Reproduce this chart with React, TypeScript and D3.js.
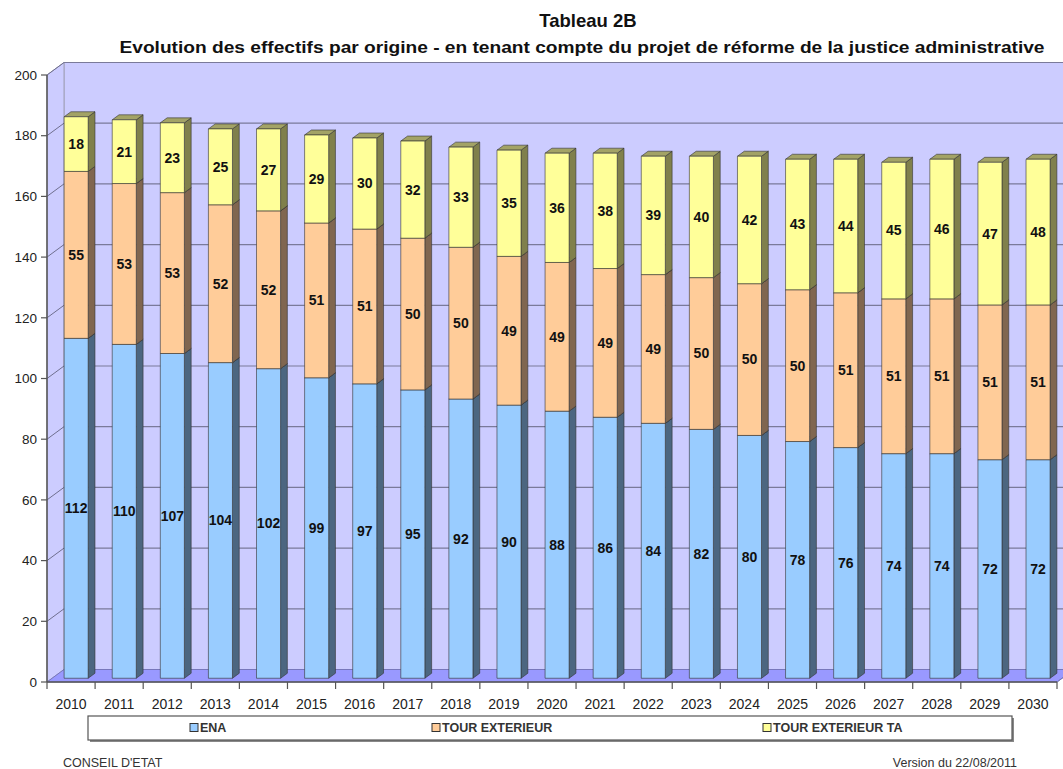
import * as d3 from "d3";

const years = [
  "2010", "2011", "2012", "2013", "2014", "2015", "2016", "2017", "2018", "2019", "2020",
  "2021", "2022", "2023", "2024", "2025", "2026", "2027", "2028", "2029", "2030",
];
const ena = [112, 110, 107, 104, 102, 99, 97, 95, 92, 90, 88, 86, 84, 82, 80, 78, 76, 74, 74, 72, 72];
const tourExt = [55, 53, 53, 52, 52, 51, 51, 50, 50, 49, 49, 49, 49, 50, 50, 50, 51, 51, 51, 51, 51];
const tourExtTa = [18, 21, 23, 25, 27, 29, 30, 32, 33, 35, 36, 38, 39, 40, 42, 43, 44, 45, 46, 47, 48];
const seriesNames = ["ENA", "TOUR EXTERIEUR", "TOUR EXTERIEUR TA"];
const yTicks = [0, 20, 40, 60, 80, 100, 120, 140, 160, 180, 200];

// front, side, top colours per series
const colors = [
  { front: "#99ccff", side: "#4c6680", top: "#7aa3cc" },
  { front: "#ffcc99", side: "#806650", top: "#cca37a" },
  { front: "#ffff99", side: "#80804c", top: "#a3a366" },
];

const W = 1063;
const H = 769;
const left = 47;
const right = 1057;
const bottom = 682;
const top = 75;
// wall depth offset
const DX = 17;
const DY = -12.5;
const FONT = "'Liberation Sans', Arial, sans-serif";

export default function App() {
  const x = d3.scaleBand<string>().domain(years).range([left, right]).paddingInner(0.5).paddingOuter(0.25);
  const y = d3.scaleLinear().domain([0, 200]).range([bottom, top]);
  const step = x.step();

  const stacked = d3.stack<number>().keys(["0", "1", "2"]).value((i, k) => [ena, tourExt, tourExtTa][+k][i])(
    years.map((_, i) => i)
  );

  // bar sits between 30% and 70% of the depth
  const fx = DX * 0.3;
  const fy = DY * 0.3;
  const bdx = DX * 0.4;
  const bdy = DY * 0.4;

  const pts = (p: number[][]) => p.map((q) => q.join(",")).join(" ");

  return (
    <svg
      width={W}
      height={H}
      style={{ position: "absolute", left: 0, top: 0, background: "#fff", fontFamily: FONT }}
    >
      {/* titre */}
      <text x={588} y={27} textAnchor="middle" fontSize={18.5} fontWeight="bold" fill="#111">
        Tableau 2B
      </text>
      <text
        x={582}
        y={53}
        textAnchor="middle"
        fontSize={17}
        fontWeight="bold"
        fill="#111"
        textLength={925}
        lengthAdjust="spacingAndGlyphs"
      >
        Evolution des effectifs par origine - en tenant compte du projet de réforme de la justice administrative
      </text>

      {/* murs */}
      <polygon
        points={pts([[left + DX, top + DY], [right + DX, top + DY], [right + DX, bottom + DY], [left + DX, bottom + DY]])}
        fill="#ccccff"
        stroke="#a0a0b8"
        strokeWidth={1}
      />
      <polygon
        points={pts([[left, top], [left + DX, top + DY], [left + DX, bottom + DY], [left, bottom]])}
        fill="#ccccff"
        stroke="#a0a0b8"
        strokeWidth={1}
      />
      <polygon
        points={pts([[left, bottom], [left + DX, bottom + DY], [right + DX, bottom + DY], [right, bottom]])}
        fill="#9999ff"
        stroke="#7777bb"
        strokeWidth={1}
      />
      {yTicks.slice(1).map((t) => (
        <g key={t}>
          <line x1={left} y1={y(t)} x2={left + DX} y2={y(t) + DY} stroke="#6f6f8f" strokeWidth={1} />
          <line x1={left + DX} y1={y(t) + DY} x2={right + DX} y2={y(t) + DY} stroke="#7a7a9a" strokeWidth={1.2} />
        </g>
      ))}

      {/* barres */}
      {years.map((yr, i) => {
        const x0 = (x(yr) ?? 0) + fx;
        const w = x.bandwidth();
        return (
          <g key={yr}>
            {stacked.map((s, k) => {
              const y0 = y(s[i][0]) + fy;
              const y1 = y(s[i][1]) + fy;
              const c = colors[k];
              return (
                <g key={k} stroke="#333" strokeWidth={0.6} strokeLinejoin="round">
                  <polygon
                    points={pts([[x0 + w, y1], [x0 + w + bdx, y1 + bdy], [x0 + w + bdx, y0 + bdy], [x0 + w, y0]])}
                    fill={c.side}
                  />
                  <polygon
                    points={pts([[x0, y1], [x0 + bdx, y1 + bdy], [x0 + w + bdx, y1 + bdy], [x0 + w, y1]])}
                    fill={c.top}
                  />
                  <rect x={x0} y={y1} width={w} height={y0 - y1} fill={c.front} />
                </g>
              );
            })}
          </g>
        );
      })}

      {/* étiquettes */}
      {years.map((yr, i) =>
        stacked.map((s, k) => (
          <text
            key={yr + k}
            x={(x(yr) ?? 0) + fx + x.bandwidth() / 2}
            y={(y(s[i][0]) + y(s[i][1])) / 2 + fy}
            dy="0.35em"
            textAnchor="middle"
            fontSize={14}
            fontWeight="bold"
            fill="#111"
          >
            {s[i][1] - s[i][0]}
          </text>
        ))
      )}

      {/* axes */}
      <line x1={left} y1={top} x2={left} y2={bottom} stroke="#555" strokeWidth={1.5} />
      <line x1={left} y1={bottom} x2={right} y2={bottom} stroke="#555" strokeWidth={1.5} />
      <line x1={right} y1={bottom} x2={right + DX} y2={bottom + DY} stroke="#7777bb" strokeWidth={1} />
      {yTicks.map((t) => (
        <g key={t}>
          <line x1={left - 6} y1={y(t)} x2={left} y2={y(t)} stroke="#555" strokeWidth={1.2} />
          <text x={left - 10} y={y(t)} dy="0.35em" textAnchor="end" fontSize={13.5} fill="#222">
            {t}
          </text>
        </g>
      ))}
      {d3.range(years.length + 1).map((i) => (
        <line
          key={i}
          x1={left + i * step}
          y1={bottom}
          x2={left + i * step}
          y2={bottom + 7}
          stroke="#555"
          strokeWidth={1.2}
        />
      ))}
      {years.map((yr) => (
        <text key={yr} x={left + (years.indexOf(yr) + 0.5) * step} y={704} dy="0.35em" textAnchor="middle" fontSize={14} fill="#222">
          {yr}
        </text>
      ))}

      {/* légende */}
      <rect x={90} y={718} width={924} height={24} fill="#888" />
      <rect x={88} y={716} width={924} height={24} fill="#fff" stroke="#555" strokeWidth={1.2} />
      {seriesNames.map((n, k) => {
        const lx = [190, 432, 763][k];
        return (
          <g key={n}>
            <rect x={lx} y={723.5} width={8} height={8} fill={colors[k].front} stroke="#333" strokeWidth={1} />
            <text x={lx + 10} y={728} dy="0.35em" fontSize={12.5} fontWeight="bold" fill="#333">
              {n}
            </text>
          </g>
        );
      })}

      {/* pied */}
      <text x={63} y={767} fontSize={12.5} fill="#333">
        CONSEIL D'ETAT
      </text>
      <text x={1017} y={767} textAnchor="end" fontSize={12.5} fill="#333">
        Version du 22/08/2011
      </text>
    </svg>
  );
}
